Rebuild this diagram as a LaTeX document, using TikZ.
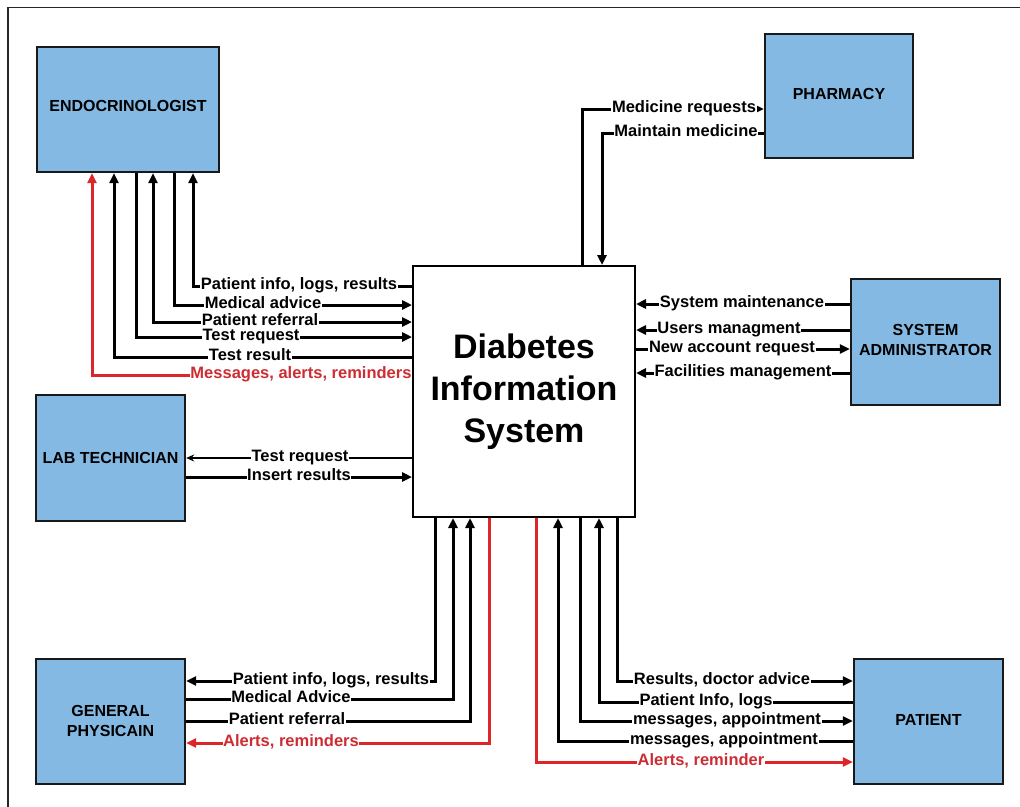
\documentclass[tikz,border=0pt]{standalone}
\usepackage{fontspec}
\setmainfont{Liberation Sans}
\usetikzlibrary{arrows.meta}
\definecolor{boxblue}{RGB}{132,185,227}
\definecolor{alertred}{RGB}{220,38,40}
\definecolor{alerttext}{RGB}{205,45,50}
\tikzset{
  entity/.style={draw=black!90, line width=2.4pt, fill=boxblue, align=center,
    font=\bfseries\fontsize{16}{20}\selectfont, inner sep=0pt},
  flow/.style={line width=3pt, draw=black, line join=miter},
  alert/.style={flow, draw=alertred},
  thin/.style={line width=1.5pt, draw=black},
  tip/.style={-{Triangle[length=10pt,width=9pt]}},
  bothtip/.style={{Triangle[length=10pt,width=9pt]}-{Triangle[length=10pt,width=9pt]}},
  lbl/.style={fill=white, inner xsep=0.6pt, inner ysep=0.5pt, anchor=base,
    font=\bfseries\fontsize{16.5}{18}\selectfont},
  lblred/.style={lbl, text=alerttext},
}
\begin{document}
\begin{tikzpicture}[x=1pt,y=-1pt]
\useasboundingbox (0,0) rectangle (1020,806);
\begin{scope}
  \clip (0,0) rectangle (1020,806);
  \draw[line width=1.8pt, black!85] (1030,7.5) -| (8,820);
\end{scope}

% external entities and the central system
\node[entity, minimum width=182pt, minimum height=125pt, text height=11.5pt, text depth=8pt] (endo) at (128,109.5) {ENDOCRINOLOGIST};
\node[entity, minimum width=148pt, minimum height=124pt, text height=11.5pt, text depth=4pt] (pharm) at (839,96) {PHARMACY};
\node[entity, minimum width=149pt, minimum height=126pt] (sysadm) at (925.5,342) {\raisebox{4pt}{SYSTEM}\\\raisebox{4pt}{ADMINISTRATOR}};
\node[entity, minimum width=149pt, minimum height=126pt] (lab) at (110.5,458) {LAB TECHNICIAN};
\node[entity, minimum width=149pt, minimum height=125pt] (gp) at (110.5,721.5) {\raisebox{1pt}{GENERAL}\\\raisebox{1pt}{PHYSICAIN}};
\node[entity, minimum width=149pt, minimum height=125pt, text height=11.5pt, text depth=4pt] (patient) at (928.5,721.5) {PATIENT};
\node[draw=black, line width=2pt, fill=white, minimum width=222pt, minimum height=251pt,
  align=center, font=\bfseries\fontsize{34}{42}\selectfont, inner sep=0pt] (dis) at (524,391.5)
  {\raisebox{3pt}{Diabetes}\\\raisebox{3pt}{Information}\\\raisebox{3pt}{System}};

% endocrinologist flows
\draw[alert, tip] (dis.west |- 0,375) -| (endo.south -| 92,0);
\draw[flow, tip] (dis.west |- 0,357) -| (endo.south -| 114,0);
\draw[flow, tip] (endo.south -| 136,0) |- (dis.west |- 0,337);
\draw[flow, bothtip] (endo.south -| 153,0) |- (dis.west |- 0,322);
\draw[flow, tip] (endo.south -| 174,0) |- (dis.west |- 0,305);
\draw[flow, tip] (dis.west |- 0,286) -| (endo.south -| 193,0);
\node[lbl] (l1) at (299,289.5) {Patient info, logs, results};
\node[lbl] (l2) at (263,308.5) {Medical advice};
\node[lbl] (l3) at (260,325.5) {Patient referral};
\node[lbl] (l4) at (251,340.5) {Test request};
\node[lbl] (l5) at (250,360.5) {Test result};
\node[lblred] (l6) at (301,378.5) {Messages, alerts, reminders};

% pharmacy flows
\draw[flow, tip] (dis.north -| 582,0) |- (pharm.west |- 0,109);
\draw[flow, tip] (pharm.west |- 0,133) -| (dis.north -| 602,0);
\node[lbl] (p1) at (684,112.5) {Medicine requests};
\node[lbl] (p2) at (686,136.5) {Maintain medicine};

% system administrator flows
\draw[flow, tip] (sysadm.west |- 0,304) -- (dis.east |- 0,304);
\draw[flow, tip] (sysadm.west |- 0,330) -- (dis.east |- 0,330);
\draw[flow, tip] (dis.east |- 0,349) -- (sysadm.west |- 0,349);
\draw[flow, tip] (sysadm.west |- 0,373) -- (dis.east |- 0,373);
\node[lbl] (s1) at (742,307.5) {System maintenance};
\node[lbl] (s2) at (729,333.5) {Users managment};
\node[lbl] (s3) at (732,352.5) {New account request};
\node[lbl] (s4) at (743,376.5) {Facilities management};

% lab technician flows
\draw[thin, -{Stealth[length=8pt,width=7pt]}] (dis.west |- 0,458) -- (lab.east |- 0,458);
\draw[flow, tip] (lab.east |- 0,477) -- (dis.west |- 0,477);
\node[lbl] (t1) at (300,461.5) {Test request};
\node[lbl] (t2) at (299,480.5) {Insert results};

% general physician flows
\draw[flow, tip] (dis.south -| 435,0) |- (gp.east |- 0,681);
\draw[flow, tip] (gp.east |- 0,699) -| (dis.south -| 453,0);
\draw[flow, tip] (gp.east |- 0,721) -| (dis.south -| 470,0);
\draw[alert, tip] (dis.south -| 489,0) |- (gp.east |- 0,743);
\node[lbl] (g1) at (331,684.5) {Patient info, logs, results};
\node[lbl] (g2) at (291,702.5) {Medical Advice};
\node[lbl] (g3) at (287,724.5) {Patient referral};
\node[lblred] (g4) at (291,746.5) {Alerts, reminders};

% patient flows
\draw[flow, tip] (dis.south -| 617,0) |- (patient.west |- 0,681);
\draw[flow, tip] (patient.west |- 0,702) -| (dis.south -| 599,0);
\draw[flow, tip] (dis.south -| 580,0) |- (patient.west |- 0,721);
\draw[flow, tip] (patient.west |- 0,741) -| (dis.south -| 558,0);
\draw[alert, tip] (dis.south -| 536,0) |- (patient.west |- 0,762);
\node[lbl] (q1) at (722,684.5) {Results, doctor advice};
\node[lbl] (q2) at (706,705.5) {Patient Info, logs};
\node[lbl] (q3) at (727,724.5) {messages, appointment};
\node[lbl] (q4) at (724,744.5) {messages, appointment};
\node[lblred] (q5) at (701,765.5) {Alerts, reminder};
\end{tikzpicture}
\end{document}
